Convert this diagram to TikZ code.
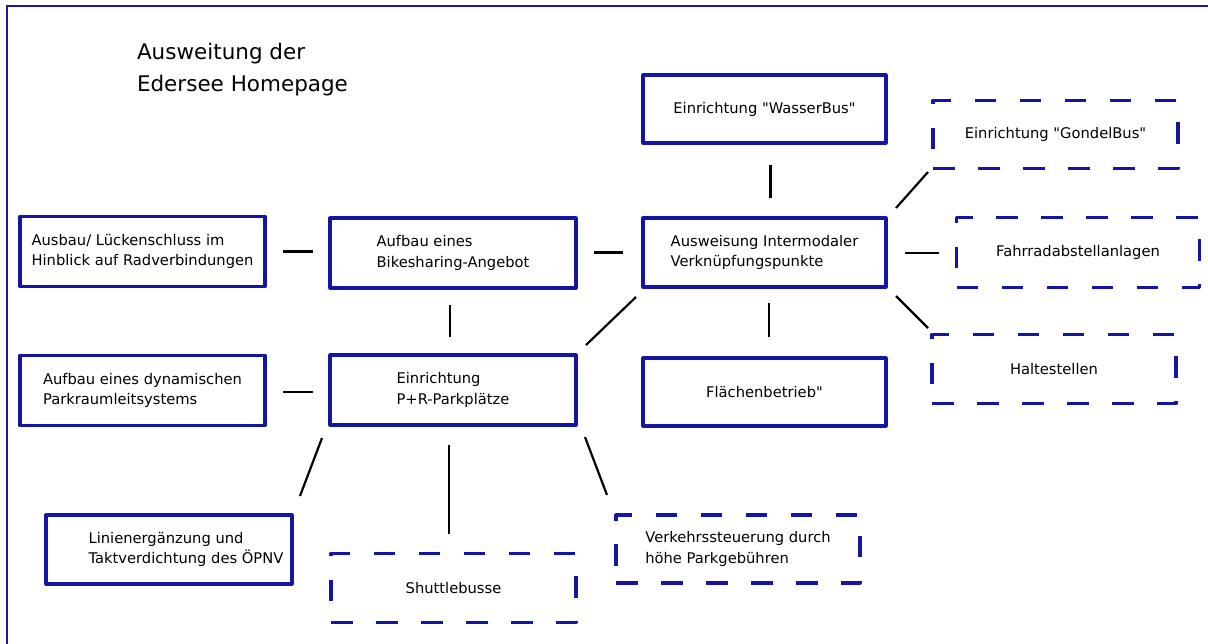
\documentclass[tikz,border=0pt]{standalone}
\usepackage{fontspec}
\setmainfont{DejaVu Sans}
\usetikzlibrary{calc}
\definecolor{boxblue}{RGB}{20,20,165}
\definecolor{frameblue}{RGB}{25,25,160}
\begin{document}
\begin{tikzpicture}[x=1pt,y=-1pt,
  solidbox/.style={draw=boxblue,line width=3.2pt,line join=round,inner sep=0pt,outer sep=0pt,
    align=left,text=black,font=\fontsize{14.7}{20.5}\selectfont},
  dashbox/.style={solidbox,dash pattern=on 21.5pt off 23.5pt},
  sz/.style 2 args={minimum width=#1pt,minimum height=#2pt},
  conn/.style={draw=black,line width=2.2pt},
  frame/.style={draw=frameblue,line width=2.8pt},
  titletext/.style={inner sep=0pt,outer sep=0pt,align=left,anchor=west,font=\fontsize{21.5}{32}\selectfont}]
\useasboundingbox (0,0) rectangle (1208,643);
\draw[frame] (7,650) -- (7,6) -- (1215,6);

\node[titletext] (title) at (137,69.5) {Ausweitung der\\Edersee Homepage};

\node[solidbox,sz={243}{68}] (wasser) at (764.5,109) {Einrichtung \textquotedbl WasserBus\textquotedbl};
\node[dashbox,sz={245}{68}] (gondel) at (1055.5,134.5) {Einrichtung \textquotedbl GondelBus\textquotedbl};
\node[solidbox,sz={243}{69}] (ausw) at (764.5,252.5) {Ausweisung Intermodaler\\Verknüpfungspunkte};
\node[dashbox,sz={243}{70}] (fahrrad) at (1078,252.5) {Fahrradabstellanlagen};
\node[dashbox,sz={244}{69}] (halte) at (1054,369) {Haltestellen};
\node[solidbox,sz={243}{68}] (flaeche) at (764.5,392) {Flächenbetrieb\textquotedbl};
\node[solidbox,sz={245}{70}] (ausbau) at (142.5,251.5) {Ausbau/ Lückenschluss im\\Hinblick auf Radverbindungen};
\node[solidbox,sz={246}{70}] (bike) at (453,253) {Aufbau eines\\Bikesharing-Angebot};
\node[solidbox,sz={245}{70}] (dyn) at (142.5,390.5) {Aufbau eines dynamischen\\Parkraumleitsystems};
\node[solidbox,sz={246}{70}] (pr) at (453,390) {Einrichtung\\P+R-Parkplätze};
\node[solidbox,sz={246}{69}] (linien) at (169,549.5) {\hspace*{34pt}Linienergänzung und\\\hspace*{34pt}Taktverdichtung des ÖPNV};
\node[dashbox,sz={245}{69}] (shuttle) at (453.5,588) {Shuttlebusse};
\node[dashbox,sz={244}{68}] (verkehr) at (738,549) {Verkehrssteuerung durch\\höhe Parkgebühren};

% connectors
\draw[conn] ($(ausbau.east)+(18,0)$) -- ($(bike.west)+(-17,-1.5)$);
\draw[conn] ($(bike.east)+(18,-0.5)$) -- ($(ausw.west)+(-20,0)$);
\draw[conn] ($(bike.south)+(-3,17)$) -- ($(pr.north)+(-3,-18)$);
\draw[conn] ($(dyn.east)+(18,1.5)$) -- ($(pr.west)+(-17,2)$);
\draw[conn] ($(wasser.south)+(6,22)$) -- ($(ausw.north)+(6,-20)$);
\draw[conn] ($(ausw.south)+(4.5,16)$) -- ($(flaeche.north)+(4.5,-21)$);
\draw[conn] ($(ausw.east)+(19,0.5)$) -- ($(fahrrad.west)+(-18,0.5)$);
\draw[conn] ($(ausw.south west)+(-7,10)$) -- ($(pr.north east)+(10,-10)$);
\draw[conn] ($(ausw.north east)+(10,-10)$) -- ($(gondel.south west)+(-5,3.5)$);
\draw[conn] ($(ausw.south east)+(10,9)$) -- ($(halte.north west)+(-4,-6.5)$);
\draw[conn] ($(pr.south west)+(-8,13)$) -- ($(linien.north east)+(8,-19)$);
\draw[conn] ($(pr.south east)+(9,12)$) -- ($(verkehr.north west)+(-9,-20)$);
\draw[conn] ($(pr.south)+(-4,20)$) -- ($(shuttle.north)+(-4.5,-19.5)$);
\end{tikzpicture}
\end{document}
